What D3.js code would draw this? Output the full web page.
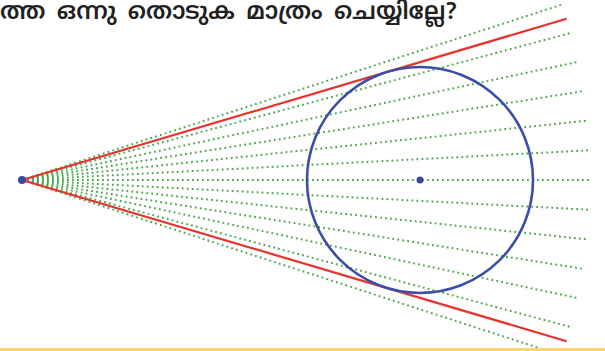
<!DOCTYPE html>
<html>
<head>
<meta charset="utf-8">
<script src="https://cdn.jsdelivr.net/npm/d3@7"></script>
<style>
body { margin: 0; background: #fff; }
svg { display: block; }
</style>
</head>
<body>
<div id="fig"></div>
<script>
// figure values (units: px-like figure units, vertex at origin)
var caption = "ത്ത ഒന്നു തൊടുക മാത്രം ചെയ്യില്ലേ?";
var rayAngles = [18, 15, 12, 9, 6, 3, 0, -3, -6, -9, -12, -15, -18];
var rayLength = 570;
var circleCenter = [398, 0];
var circleRadius = 113;
var tangentLength = 568;

var width = 605, height = 351;

var x = d3.scaleLinear().domain([0, 100]).range([22, 122]);
var y = d3.scaleLinear().domain([0, 100]).range([180, 80]);

var svg = d3.select("#fig").append("svg")
  .attr("width", width)
  .attr("height", height);

// green dotted fan
svg.append("g").selectAll("line")
  .data(rayAngles)
  .enter().append("line")
  .attr("x1", x(0)).attr("y1", y(0))
  .attr("x2", d => x(rayLength * Math.cos(d * Math.PI / 180)))
  .attr("y2", d => y(rayLength * Math.sin(d * Math.PI / 180)))
  .style("stroke", "#4aa84a")
  .style("stroke-width", 2)
  .style("stroke-dasharray", "1.8 3.2");

// tangents
var dist = circleCenter[0];
var half = Math.asin(circleRadius / dist);
svg.append("g").selectAll("line")
  .data([half, -half])
  .enter().append("line")
  .attr("x1", x(0)).attr("y1", y(0))
  .attr("x2", d => x(tangentLength * Math.cos(d)))
  .attr("y2", d => y(tangentLength * Math.sin(d)))
  .style("stroke", "#e8322b")
  .style("stroke-width", 2.2);

// circle
svg.append("circle")
  .attr("cx", x(circleCenter[0]))
  .attr("cy", y(circleCenter[1]))
  .attr("r", x(circleRadius) - x(0))
  .style("fill", "none")
  .style("stroke", "#3c4ea6")
  .style("stroke-width", 2.6);

// points
svg.append("g").selectAll("circle")
  .data([[0, 0, 4], [circleCenter[0], circleCenter[1], 3.5]])
  .enter().append("circle")
  .attr("cx", d => x(d[0]))
  .attr("cy", d => y(d[1]))
  .attr("r", d => d[2])
  .style("fill", "#3b4a9e");

// bottom band
svg.append("rect")
  .attr("x", 0).attr("y", 348)
  .attr("width", width).attr("height", 3)
  .style("fill", "#f9d76a");

svg.append("text")
  .attr("x", 0)
  .attr("y", 19)
  .style("font-family", "'Noto Sans Malayalam', 'Noto Sans', sans-serif")
  .style("font-size", "24px")
  .style("font-weight", 600)
  .style("word-spacing", "4px")
  .style("fill", "#231f20")
  .text(caption);
</script>
</body>
</html>
